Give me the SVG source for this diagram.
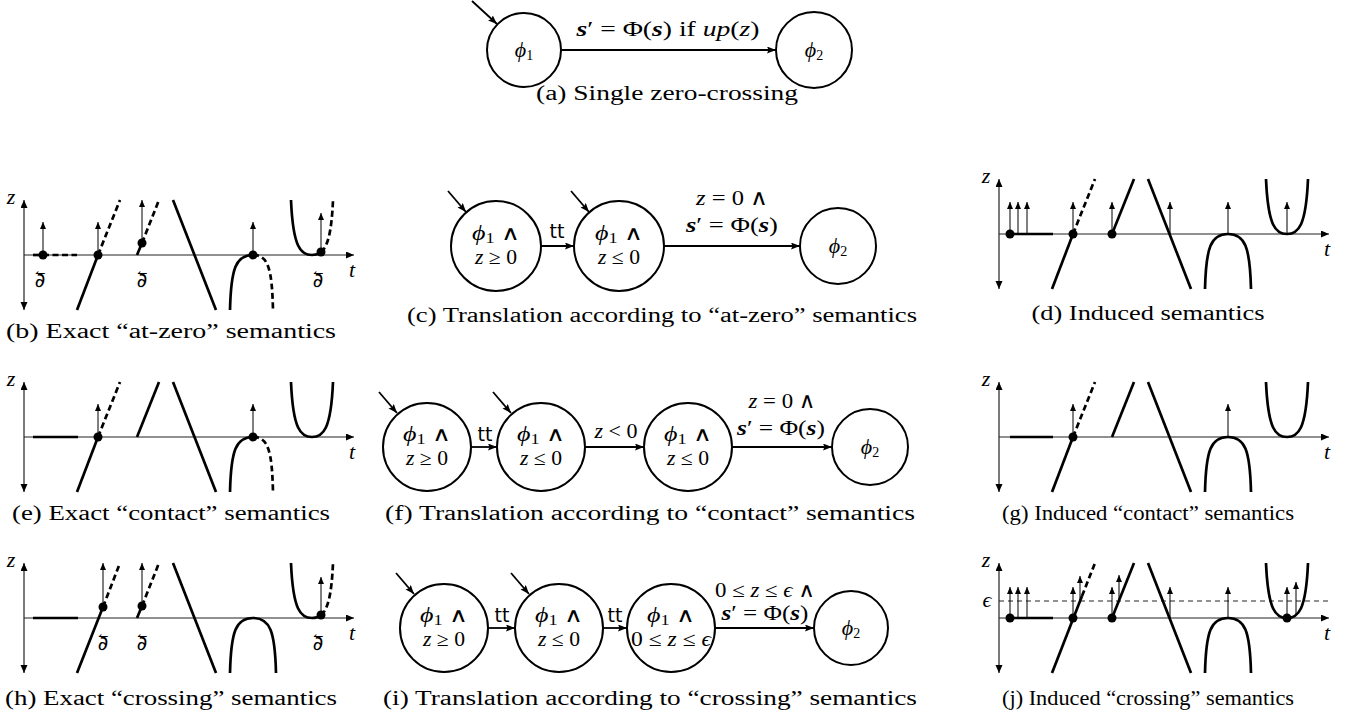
<svg xmlns="http://www.w3.org/2000/svg" width="1359" height="716" viewBox="0 0 1359 716">
<defs>
<style>
.cap{font-family:"Liberation Serif","DejaVu Serif",serif;font-size:20px;fill:#000;text-anchor:middle}
.m{font-family:"Liberation Serif","DejaVu Serif",serif;font-size:22px;fill:#000;text-anchor:middle}
.nt{font-family:"Liberation Serif","DejaVu Serif",serif;font-size:20px;fill:#000;text-anchor:middle}
.i{font-style:italic}
.b{font-weight:bold;font-style:italic}
.sb{font-size:14px}
.sf{font-family:"DejaVu Sans","Liberation Sans",sans-serif;font-size:19px;fill:#000;text-anchor:middle}
.dl{font-family:"DejaVu Serif","DejaVu Sans",serif;font-size:20px;fill:#000;text-anchor:middle}
.node{fill:#fff;stroke:#000;stroke-width:2}
.edge{fill:none;stroke:#000;stroke-width:1.8;marker-end:url(#ah)}
.axis{fill:none;stroke:#222;stroke-width:1.2}
.sol{fill:none;stroke:#000;stroke-width:2.7}
.dsh{fill:none;stroke:#000;stroke-width:2.7;stroke-dasharray:6 3.5}
.eps{fill:none;stroke:#222;stroke-width:1;stroke-dasharray:5 4}
.up{fill:none;stroke:#000;stroke-width:1;marker-end:url(#sa)}
.dot{fill:#000}
</style>
<marker id="ah" markerUnits="userSpaceOnUse" markerWidth="10" markerHeight="8" refX="9" refY="3.5" orient="auto"><path d="M0,0 L9,3.5 L0,7 L1.5,3.5 z" fill="#000"/></marker>
<marker id="sa" markerUnits="userSpaceOnUse" markerWidth="8" markerHeight="7" refX="7" refY="3" orient="auto"><path d="M0,0 L7,3 L0,6 z" fill="#000"/></marker>
<marker id="ta" markerUnits="userSpaceOnUse" markerWidth="9" markerHeight="8" refX="8" refY="3.5" orient="auto-start-reverse"><path d="M0,0 L8,3.5 L0,7 z" fill="#000"/></marker>
</defs>
<rect width="1359" height="716" fill="#fff"/>

<!-- (a) -->
<g id="a-phi1"><circle class="node" cx="524" cy="50" r="37"/><text class="m" x="524" y="57"><tspan class="i">ϕ</tspan><tspan class="sb" dy="3">1</tspan></text></g>
<g id="a-phi2"><circle class="node" cx="814" cy="50" r="38"/><text class="m" x="814" y="57"><tspan class="i">ϕ</tspan><tspan class="sb" dy="3">2</tspan></text></g>
<g id="a-edges">
<line class="edge" x1="472" y1="1" x2="497" y2="24"/>
<line class="edge" x1="561" y1="50" x2="776" y2="50"/>
<text class="m" x="668" y="36" textLength="183" lengthAdjust="spacingAndGlyphs"><tspan class="b">s</tspan>′ = Φ(<tspan class="b">s</tspan>) if <tspan class="i">up</tspan>(<tspan class="i">z</tspan>)</text>
</g>
<text class="cap" x="667" y="100" textLength="262" lengthAdjust="spacingAndGlyphs">(a) Single zero-crossing</text>

<!-- (b) -->
<g id="plot-b">
<line class="axis" x1="24" y1="255" x2="354" y2="255" marker-end="url(#ta)"/>
<line class="axis" x1="24" y1="310" x2="24" y2="200" marker-start="url(#ta)" marker-end="url(#ta)"/>
<text class="m i" x="11" y="204">z</text><text class="m i" x="352" y="277">t</text>
<path class="sol" d="M33,255 H43"/><path class="dsh" d="M43,255 H77"/>
<line class="up" x1="43" y1="255" x2="43" y2="222"/><circle class="dot" cx="43" cy="255" r="4.5"/>
<text class="dl" x="40" y="287">∂⃐</text>
<path class="sol" d="M77,310 L98,255"/><path class="dsh" d="M98,255 L120,200"/>
<line class="up" x1="98" y1="255" x2="98" y2="222"/><circle class="dot" cx="98" cy="255" r="4.5"/>
<path class="sol" d="M137,255 L142,243"/><path class="dsh" d="M142,243 L159,200"/>
<line class="up" x1="142" y1="243" x2="142" y2="200"/><circle class="dot" cx="142" cy="243" r="4.5"/>
<text class="dl" x="142" y="287">∂⃐</text>
<path class="sol" d="M173,200 L216,310"/>
<path class="sol" d="M230,310 C231,268 236,255 253,255"/><path class="dsh" d="M253,255 C268,255 272,268 273,310"/>
<line class="up" x1="253" y1="255" x2="253" y2="222"/><circle class="dot" cx="253" cy="255" r="4.5"/>
<path class="sol" d="M291,200 C293,248 301,255 312,255 C315.3,255 318.3,254.4 321,252.2"/><path class="dsh" d="M321,252.2 C327.3,247.1 331.6,233.6 333,200"/>
<line class="up" x1="321" y1="252" x2="321" y2="213"/><circle class="dot" cx="321" cy="252" r="4.5"/>
<text class="dl" x="318" y="287">∂⃐</text>
</g>
<text class="cap" x="171" y="338" textLength="330" lengthAdjust="spacingAndGlyphs">(b) Exact “at-zero” semantics</text>

<!-- (c) -->
<g id="c-n1"><circle class="node" cx="496" cy="246" r="45"/><text class="nt" x="496" y="240" textLength="48" lengthAdjust="spacingAndGlyphs"><tspan class="i">ϕ</tspan><tspan class="sb" dy="3">1</tspan><tspan dy="-3"> ∧</tspan></text><text class="nt" x="496" y="264" textLength="42" lengthAdjust="spacingAndGlyphs"><tspan class="i">z</tspan> ≥ 0</text></g>
<g id="c-n2"><circle class="node" cx="619" cy="246" r="45"/><text class="nt" x="619" y="240" textLength="48" lengthAdjust="spacingAndGlyphs"><tspan class="i">ϕ</tspan><tspan class="sb" dy="3">1</tspan><tspan dy="-3"> ∧</tspan></text><text class="nt" x="619" y="264" textLength="42" lengthAdjust="spacingAndGlyphs"><tspan class="i">z</tspan> ≤ 0</text></g>
<g id="c-n3"><circle class="node" cx="838" cy="246" r="38"/><text class="m" x="838" y="253"><tspan class="i">ϕ</tspan><tspan class="sb" dy="3">2</tspan></text></g>
<g id="c-edges">
<line class="edge" x1="448" y1="191" x2="466" y2="212"/>
<line class="edge" x1="571" y1="191" x2="589" y2="212"/>
<line class="edge" x1="541" y1="246" x2="574" y2="246"/>
<text class="sf" x="557" y="238">tt</text>
<line class="edge" x1="664" y1="246" x2="800" y2="246"/>
<text class="m" x="732" y="205" textLength="72" lengthAdjust="spacingAndGlyphs"><tspan class="i">z</tspan> = 0 ∧</text>
<text class="m" x="732" y="232" textLength="92" lengthAdjust="spacingAndGlyphs"><tspan class="b">s</tspan>′ = Φ(<tspan class="b">s</tspan>)</text>
</g>
<text class="cap" x="662" y="322" textLength="510" lengthAdjust="spacingAndGlyphs">(c) Translation according to “at-zero” semantics</text>

<!-- (d) -->
<g id="plot-d" transform="translate(975,-21)">
<line class="axis" x1="24" y1="255" x2="354" y2="255" marker-end="url(#ta)"/>
<line class="axis" x1="24" y1="310" x2="24" y2="200" marker-start="url(#ta)" marker-end="url(#ta)"/>
<text class="m i" x="11" y="204">z</text><text class="m i" x="352" y="277">t</text>
<path class="sol" d="M35,255 H78"/>
<line class="up" x1="35" y1="255" x2="35" y2="223"/><line class="up" x1="43" y1="255" x2="43" y2="223"/><line class="up" x1="52" y1="255" x2="52" y2="223"/>
<circle class="dot" cx="35" cy="255" r="4.5"/>
<path class="sol" d="M77,310 L98,255"/><path class="dsh" d="M98,255 L120,200"/>
<line class="up" x1="98" y1="255" x2="98" y2="223"/><circle class="dot" cx="98" cy="255" r="4.5"/>
<path class="sol" d="M137,255 L159,200"/>
<line class="up" x1="137" y1="255" x2="137" y2="223"/><circle class="dot" cx="137" cy="255" r="4.5"/>
<path class="sol" d="M173,200 L216,310"/><line class="up" x1="195" y1="255" x2="195" y2="223"/>
<path class="sol" d="M230,310 C231,268 236,255 253,255 C270,255 275,268 276,310"/>
<line class="up" x1="253" y1="255" x2="253" y2="223"/>
<path class="sol" d="M291,200 C293,248 301,255 312,255 C323,255 331,248 333,200"/>
<line class="up" x1="312" y1="255" x2="312" y2="223"/>
</g>
<text class="cap" x="1148" y="320" textLength="233" lengthAdjust="spacingAndGlyphs">(d) Induced semantics</text>

<!-- (e) -->
<g id="plot-e" transform="translate(0,182)">
<line class="axis" x1="24" y1="255" x2="354" y2="255" marker-end="url(#ta)"/>
<line class="axis" x1="24" y1="310" x2="24" y2="200" marker-start="url(#ta)" marker-end="url(#ta)"/>
<text class="m i" x="11" y="204">z</text><text class="m i" x="352" y="277">t</text>
<path class="sol" d="M33,255 H78"/>
<path class="sol" d="M77,310 L98,255"/><path class="dsh" d="M98,255 L120,200"/>
<line class="up" x1="98" y1="255" x2="98" y2="222"/><circle class="dot" cx="98" cy="255" r="4.5"/>
<path class="sol" d="M137,255 L159,200"/>
<path class="sol" d="M173,200 L216,310"/>
<path class="sol" d="M230,310 C231,268 236,255 253,255"/><path class="dsh" d="M253,255 C268,255 272,268 273,310"/>
<line class="up" x1="253" y1="255" x2="253" y2="222"/><circle class="dot" cx="253" cy="255" r="4.5"/>
<path class="sol" d="M291,200 C293,248 301,255 312,255 C323,255 331,248 333,200"/>
</g>
<text class="cap" x="171" y="520" textLength="318" lengthAdjust="spacingAndGlyphs">(e) Exact “contact” semantics</text>

<!-- (f) -->
<g id="f-n1"><circle class="node" cx="427" cy="447" r="44"/><text class="nt" x="427" y="441" textLength="48" lengthAdjust="spacingAndGlyphs"><tspan class="i">ϕ</tspan><tspan class="sb" dy="3">1</tspan><tspan dy="-3"> ∧</tspan></text><text class="nt" x="427" y="465" textLength="42" lengthAdjust="spacingAndGlyphs"><tspan class="i">z</tspan> ≥ 0</text></g>
<g id="f-n2"><circle class="node" cx="541" cy="447" r="44"/><text class="nt" x="541" y="441" textLength="48" lengthAdjust="spacingAndGlyphs"><tspan class="i">ϕ</tspan><tspan class="sb" dy="3">1</tspan><tspan dy="-3"> ∧</tspan></text><text class="nt" x="541" y="465" textLength="42" lengthAdjust="spacingAndGlyphs"><tspan class="i">z</tspan> ≤ 0</text></g>
<g id="f-n3"><circle class="node" cx="688" cy="447" r="44"/><text class="nt" x="688" y="441" textLength="48" lengthAdjust="spacingAndGlyphs"><tspan class="i">ϕ</tspan><tspan class="sb" dy="3">1</tspan><tspan dy="-3"> ∧</tspan></text><text class="nt" x="688" y="465" textLength="42" lengthAdjust="spacingAndGlyphs"><tspan class="i">z</tspan> ≤ 0</text></g>
<g id="f-n4"><circle class="node" cx="870" cy="447" r="38"/><text class="m" x="870" y="454"><tspan class="i">ϕ</tspan><tspan class="sb" dy="3">2</tspan></text></g>
<g id="f-edges">
<line class="edge" x1="379" y1="392" x2="397" y2="413"/>
<line class="edge" x1="493" y1="392" x2="511" y2="413"/>
<line class="edge" x1="471" y1="447" x2="497" y2="447"/>
<text class="sf" x="485" y="441">tt</text>
<line class="edge" x1="585" y1="447" x2="644" y2="447"/>
<text class="m" x="616" y="438" textLength="43" lengthAdjust="spacingAndGlyphs"><tspan class="i">z</tspan> &lt; 0</text>
<line class="edge" x1="732" y1="447" x2="832" y2="447"/>
<text class="m" x="782" y="408" textLength="67" lengthAdjust="spacingAndGlyphs"><tspan class="i">z</tspan> = 0 ∧</text>
<text class="m" x="781" y="435" textLength="88" lengthAdjust="spacingAndGlyphs"><tspan class="b">s</tspan>′ = Φ(<tspan class="b">s</tspan>)</text>
</g>
<text class="cap" x="650" y="520" textLength="530" lengthAdjust="spacingAndGlyphs">(f) Translation according to “contact” semantics</text>

<!-- (g) -->
<g id="plot-g" transform="translate(975,182)">
<line class="axis" x1="24" y1="255" x2="354" y2="255" marker-end="url(#ta)"/>
<line class="axis" x1="24" y1="310" x2="24" y2="200" marker-start="url(#ta)" marker-end="url(#ta)"/>
<text class="m i" x="11" y="204">z</text><text class="m i" x="352" y="277">t</text>
<path class="sol" d="M35,255 H78"/>
<path class="sol" d="M77,310 L98,255"/><path class="dsh" d="M98,255 L120,200"/>
<line class="up" x1="98" y1="255" x2="98" y2="222"/><circle class="dot" cx="98" cy="255" r="4.5"/>
<path class="sol" d="M137,255 L159,200"/>
<path class="sol" d="M173,200 L216,310"/>
<path class="sol" d="M230,310 C231,268 236,255 253,255 C270,255 275,268 276,310"/>
<line class="up" x1="253" y1="255" x2="253" y2="222"/>
<path class="sol" d="M291,200 C293,248 301,255 312,255 C323,255 331,248 333,200"/>
</g>
<text class="cap" x="1148" y="520" textLength="292" lengthAdjust="spacingAndGlyphs">(g) Induced “contact” semantics</text>

<!-- (h) -->
<g id="plot-h" transform="translate(0,363)">
<line class="axis" x1="24" y1="255" x2="354" y2="255" marker-end="url(#ta)"/>
<line class="axis" x1="24" y1="310" x2="24" y2="200" marker-start="url(#ta)" marker-end="url(#ta)"/>
<text class="m i" x="11" y="204">z</text><text class="m i" x="352" y="277">t</text>
<path class="sol" d="M33,255 H78"/>
<path class="sol" d="M77,310 L103,244"/><path class="dsh" d="M103,244 L120,200"/>
<line class="up" x1="103" y1="244" x2="103" y2="200"/><circle class="dot" cx="103" cy="244" r="4.5"/>
<text class="dl" x="103" y="287">∂⃐</text>
<path class="sol" d="M137,255 L142,243"/><path class="dsh" d="M142,243 L159,200"/>
<line class="up" x1="142" y1="243" x2="142" y2="200"/><circle class="dot" cx="142" cy="243" r="4.5"/>
<text class="dl" x="142" y="287">∂⃐</text>
<path class="sol" d="M173,200 L216,310"/>
<path class="sol" d="M230,310 C231,268 236,255 253,255 C270,255 275,268 276,310"/>
<path class="sol" d="M291,200 C293,248 301,255 312,255 C315.3,255 318.3,254.4 321,252.2"/><path class="dsh" d="M321,252.2 C327.3,247.1 331.6,233.6 333,200"/>
<line class="up" x1="321" y1="252" x2="321" y2="214"/><circle class="dot" cx="321" cy="252" r="4.5"/>
<text class="dl" x="318" y="287">∂⃐</text>
</g>
<text class="cap" x="171" y="705" textLength="332" lengthAdjust="spacingAndGlyphs">(h) Exact “crossing” semantics</text>

<!-- (i) -->
<g id="i-n1"><circle class="node" cx="444" cy="628" r="44"/><text class="nt" x="444" y="622" textLength="48" lengthAdjust="spacingAndGlyphs"><tspan class="i">ϕ</tspan><tspan class="sb" dy="3">1</tspan><tspan dy="-3"> ∧</tspan></text><text class="nt" x="444" y="646" textLength="42" lengthAdjust="spacingAndGlyphs"><tspan class="i">z</tspan> ≥ 0</text></g>
<g id="i-n2"><circle class="node" cx="559" cy="628" r="44"/><text class="nt" x="559" y="622" textLength="48" lengthAdjust="spacingAndGlyphs"><tspan class="i">ϕ</tspan><tspan class="sb" dy="3">1</tspan><tspan dy="-3"> ∧</tspan></text><text class="nt" x="559" y="646" textLength="42" lengthAdjust="spacingAndGlyphs"><tspan class="i">z</tspan> ≤ 0</text></g>
<g id="i-n3"><circle class="node" cx="671" cy="628" r="44"/><text class="nt" x="671" y="622" textLength="48" lengthAdjust="spacingAndGlyphs"><tspan class="i">ϕ</tspan><tspan class="sb" dy="3">1</tspan><tspan dy="-3"> ∧</tspan></text><text class="nt" x="671" y="646" textLength="80" lengthAdjust="spacingAndGlyphs">0 ≤ <tspan class="i">z</tspan> ≤ <tspan class="i">ϵ</tspan></text></g>
<g id="i-n4"><circle class="node" cx="851" cy="628" r="37"/><text class="m" x="851" y="635"><tspan class="i">ϕ</tspan><tspan class="sb" dy="3">2</tspan></text></g>
<g id="i-edges">
<line class="edge" x1="396" y1="573" x2="414" y2="594"/>
<line class="edge" x1="511" y1="573" x2="529" y2="594"/>
<line class="edge" x1="488" y1="628" x2="515" y2="628"/>
<text class="sf" x="502" y="622">tt</text>
<line class="edge" x1="603" y1="628" x2="627" y2="628"/>
<text class="sf" x="615" y="622">tt</text>
<line class="edge" x1="715" y1="628" x2="814" y2="628"/>
<text class="nt" x="765" y="597" textLength="100" lengthAdjust="spacingAndGlyphs">0 ≤ <tspan class="i">z</tspan> ≤ <tspan class="i">ϵ</tspan> ∧</text>
<text class="nt" x="765" y="620" textLength="87" lengthAdjust="spacingAndGlyphs"><tspan class="b">s</tspan>′ = Φ(<tspan class="b">s</tspan>)</text>
</g>
<text class="cap" x="650" y="705" textLength="534" lengthAdjust="spacingAndGlyphs">(i) Translation according to “crossing” semantics</text>

<!-- (j) -->
<g id="plot-j" transform="translate(975,363)">
<line class="eps" x1="24" y1="238" x2="355" y2="238"/>
<text class="m i" x="12" y="244">ϵ</text>
<line class="axis" x1="24" y1="255" x2="354" y2="255" marker-end="url(#ta)"/>
<line class="axis" x1="24" y1="310" x2="24" y2="200" marker-start="url(#ta)" marker-end="url(#ta)"/>
<text class="m i" x="11" y="204">z</text><text class="m i" x="352" y="277">t</text>
<path class="sol" d="M35,255 H78"/>
<line class="up" x1="35" y1="255" x2="35" y2="224"/><line class="up" x1="43" y1="255" x2="43" y2="224"/><line class="up" x1="52" y1="255" x2="52" y2="224"/>
<circle class="dot" cx="35" cy="255" r="4.5"/>
<path class="sol" d="M77,310 L107,233"/><path class="dsh" d="M107,233 L120,200"/>
<line class="up" x1="98" y1="255" x2="98" y2="224"/><line class="up" x1="105" y1="238" x2="105" y2="213"/>
<circle class="dot" cx="98" cy="255" r="4.5"/>
<path class="sol" d="M137,255 L159,200"/>
<line class="up" x1="137" y1="255" x2="137" y2="224"/><line class="up" x1="144" y1="238" x2="144" y2="212"/>
<circle class="dot" cx="137" cy="255" r="4.5"/>
<path class="sol" d="M173,200 L216,310"/><line class="up" x1="195" y1="255" x2="195" y2="224"/>
<path class="sol" d="M230,310 C231,268 236,255 253,255 C270,255 275,268 276,310"/>
<line class="up" x1="253" y1="255" x2="253" y2="224"/>
<path class="sol" d="M291,200 C293,248 301,255 312,255 C323,255 331,248 333,200"/>
<line class="up" x1="312" y1="255" x2="312" y2="224"/><line class="up" x1="321" y1="252" x2="321" y2="219"/>
<circle class="dot" cx="312" cy="255" r="4.5"/>
</g>
<text class="cap" x="1148" y="705" textLength="292" lengthAdjust="spacingAndGlyphs">(j) Induced “crossing” semantics</text>
</svg>
